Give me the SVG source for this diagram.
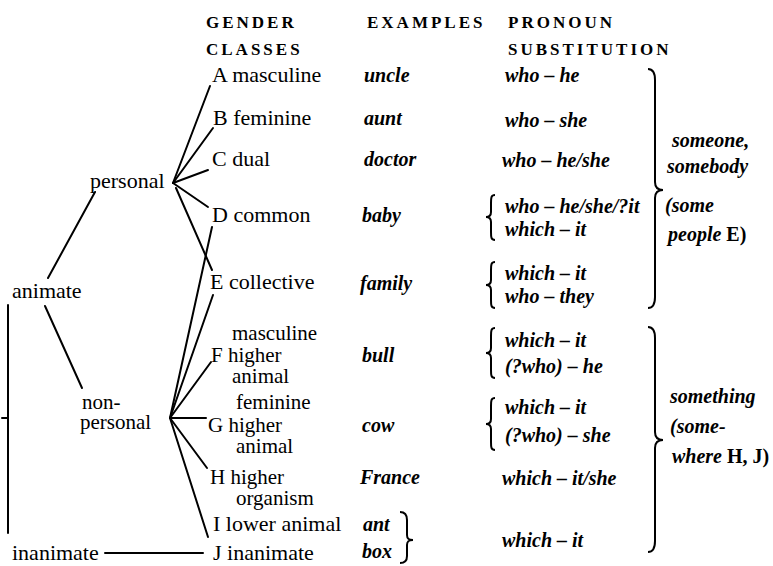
<svg xmlns="http://www.w3.org/2000/svg" width="773" height="566" viewBox="0 0 773 566">
<style>
text{font-family:"Liberation Serif","Times New Roman",serif;fill:#000}
.h{font-size:17px;letter-spacing:3px;font-weight:bold}
.t{font-size:22px}
.m{font-size:21px}
.i{font-size:20px;font-style:italic;font-weight:bold}
.r{font-size:20px;font-weight:bold}
.ln{stroke:#000;stroke-width:2;fill:none;stroke-linecap:round}
.br{stroke:#000;stroke-width:2;fill:none}
</style>
<rect width="773" height="566" fill="#fff"/>
<g id="headers">
<text class="h" x="206" y="28">GENDER</text>
<text class="h" x="206" y="55">CLASSES</text>
<text class="h" x="367" y="28">EXAMPLES</text>
<text class="h" x="508" y="28">PRONOUN</text>
<text class="h" x="508" y="55">SUBSTITUTION</text>
</g>
<g id="connectors">
<line class="ln" x1="8" y1="305" x2="8" y2="533"/>
<line class="ln" x1="2" y1="418" x2="8" y2="418"/>
<line class="ln" x1="48" y1="278" x2="95" y2="192"/>
<line class="ln" x1="45" y1="306" x2="82" y2="388"/>
<line class="ln" x1="105" y1="553" x2="203" y2="553"/>
<line class="ln" x1="173" y1="183" x2="210" y2="86"/>
<line class="ln" x1="173" y1="183" x2="213" y2="128"/>
<line class="ln" x1="173" y1="183" x2="208" y2="170"/>
<line class="ln" x1="173" y1="183" x2="208" y2="207"/>
<line class="ln" x1="176" y1="188" x2="212" y2="270"/>
<line class="ln" x1="170" y1="418" x2="212" y2="227"/>
<line class="ln" x1="170" y1="418" x2="213" y2="295"/>
<line class="ln" x1="170" y1="418" x2="211" y2="362"/>
<line class="ln" x1="170" y1="418" x2="206" y2="418"/>
<line class="ln" x1="170" y1="418" x2="207" y2="468"/>
<line class="ln" x1="170" y1="418" x2="208" y2="537"/>
</g>
<g id="animate"><text class="t" x="12" y="298">animate</text></g>
<g id="inanimate"><text class="t" x="12" y="560">inanimate</text></g>
<g id="personal"><text class="t" x="90" y="188">personal</text></g>
<g id="nonpersonal"><text class="m" x="82" y="409">non-</text><text class="m" x="80" y="429">personal</text></g>
<g id="classA"><text class="t" x="212" y="82">A masculine</text><text class="i" x="364" y="82">uncle</text><text class="i" x="505" y="82">who – he</text></g>
<g id="classB"><text class="t" x="213" y="125">B feminine</text><text class="i" x="364" y="125">aunt</text><text class="i" x="505" y="127">who – she</text></g>
<g id="classC"><text class="t" x="212" y="166">C dual</text><text class="i" x="364" y="166">doctor</text><text class="i" x="502" y="167">who – he/she</text></g>
<g id="classD"><text class="t" x="212" y="222">D common</text><text class="i" x="362" y="222">baby</text>
<path class="br" d="M495 195 C491 195 491 198 491 203 L491 212 C491 216 489 217 486 217 C489 217 491 218 491 222 L491 232 C491 237 491 240 495 240"/>
<text class="i" x="505" y="213">who – he/she/?it</text><text class="i" x="505" y="236">which – it</text></g>
<g id="classE"><text class="t" x="210" y="289">E collective</text><text class="i" x="360" y="290">family</text>
<path class="br" d="M495 262 C491 262 491 265 491 270 L491 280 C491 284 489 285 486 285 C489 285 491 286 491 290 L491 300 C491 305 491 308 495 308"/>
<text class="i" x="505" y="280">which – it</text><text class="i" x="505" y="303">who – they</text></g>
<g id="classF"><text class="m" x="232" y="340">masculine</text><text class="m" x="211" y="362">F higher</text><text class="m" x="232" y="383">animal</text><text class="i" x="362" y="362">bull</text>
<path class="br" d="M495 328 C491 328 491 331 491 336 L491 348 C491 352 489 353 486 353 C489 353 491 354 491 358 L491 370 C491 375 491 378 495 378"/>
<text class="i" x="505" y="347">which – it</text><text class="i" x="505" y="373">(?who) – he</text></g>
<g id="classG"><text class="m" x="236" y="409">feminine</text><text class="m" x="208" y="432">G higher</text><text class="m" x="236" y="453">animal</text><text class="i" x="362" y="432">cow</text>
<path class="br" d="M495 398 C491 398 491 401 491 406 L491 419 C491 423 489 424 486 424 C489 424 491 425 491 429 L491 442 C491 447 491 450 495 450"/>
<text class="i" x="505" y="414">which – it</text><text class="i" x="505" y="442">(?who) – she</text></g>
<g id="classH"><text class="m" x="210" y="484">H higher</text><text class="m" x="236" y="505">organism</text><text class="i" x="360" y="484">France</text><text class="i" x="502" y="485">which – it/she</text></g>
<g id="classI"><text class="t" x="213" y="531">I  lower animal</text><text class="i" x="363" y="531">ant</text></g>
<g id="classJ"><text class="t" x="213" y="560">J  inanimate</text><text class="i" x="362" y="558">box</text></g>
<g id="braceIJ"><path class="br" d="M400 512 C405 512 407 515 407 520 L407 535 C407 539 409 540 413 540 C409 540 407 541 407 545 L407 556 C407 561 405 563 400 563"/><text class="i" x="502" y="547">which – it</text></g>
<g id="someone">
<path class="br" d="M648 69 C653 69 655 73 655 80 L655 182 C655 187 658 190 663 190 C658 190 655 193 655 198 L655 297 C655 304 653 308 648 308"/>
<text class="i" x="672" y="147">someone,</text><text class="i" x="667" y="173">somebody</text>
<text class="i" x="665" y="212">(some</text><text x="668" y="241"><tspan class="i">people</tspan><tspan class="r" font-weight="normal"> E)</tspan></text>
</g>
<g id="something">
<path class="br" d="M648 327 C653 327 655 331 655 338 L655 432 C655 437 658 440 663 440 C658 440 655 443 655 448 L655 541 C655 548 653 552 648 552"/>
<text class="i" x="670" y="403">something</text><text class="i" x="670" y="433">(some-</text>
<text x="672" y="463"><tspan class="i">where</tspan><tspan class="r"> H, J)</tspan></text>
</g>
</svg>
